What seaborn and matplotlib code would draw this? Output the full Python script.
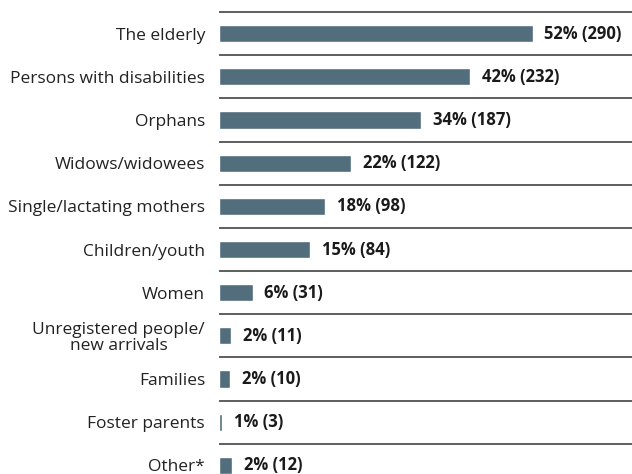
import matplotlib
matplotlib.use("Agg")
import matplotlib.pyplot as plt
import seaborn as sns
import pandas as pd

categories = [
    "The elderly",
    "Persons with disabilities",
    "Orphans",
    "Widows/widowees",
    "Single/lactating mothers",
    "Children/youth",
    "Women",
    "Unregistered people/\nnew arrivals",
    "Families",
    "Foster parents",
    "Other*",
]
percents = [52, 42, 34, 22, 18, 15, 6, 2, 2, 1, 2]
counts = [290, 232, 187, 122, 98, 84, 31, 11, 10, 3, 12]

df = pd.DataFrame({"category": categories, "count": counts, "pct": percents})

sns.set_theme(style="white")
plt.rcParams["font.family"] = ["Open Sans", "DejaVu Sans"]

fig = plt.figure(figsize=(6.32, 4.74), dpi=100)
ax = fig.add_axes([219 / 632, 0, 1 - 219 / 632, 1])

sns.barplot(data=df, y="category", x="count", orient="h", color="#526e7d",
            saturation=1, width=0.4, ax=ax)

ax.set_xlim(0, 382)
ax.set_ylim(10.2, -0.78)

# separator rules between rows
for i in range(len(categories)):
    ax.axhline(i - 0.5, color="#333333", lw=1.1)

# value labels: percent and respondent count
for i, (n, p) in enumerate(zip(counts, percents)):
    ax.annotate(f"{p}% ({n})", xy=(n, i), xytext=(8.5, 0), textcoords="offset points",
                va="center", ha="left", fontsize=12, fontweight="bold",
                color="#1a1a1a")

ax.set_xlabel("")
ax.set_ylabel("")
ax.set_xticks([])
ax.tick_params(axis="y", length=0, pad=10, labelsize=12.5, labelcolor="#222222")
for lab in ax.get_yticklabels():
    lab.set_horizontalalignment("right")
    lab.set_multialignment("center")
    lab.set_linespacing(1.05)
for s in ax.spines.values():
    s.set_visible(False)

fig.savefig("out.png", dpi=100)
